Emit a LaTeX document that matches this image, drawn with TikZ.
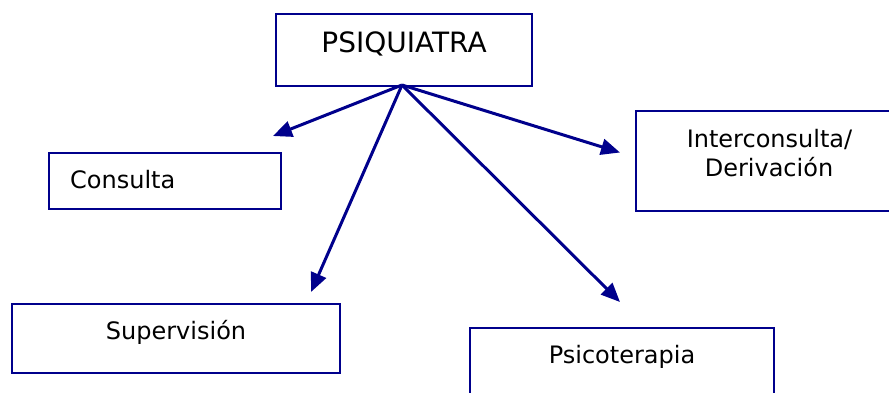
\documentclass[tikz,border=0pt]{standalone}
\usepackage{fontspec}
\setmainfont{DejaVu Sans}
\usetikzlibrary{arrows.meta}
\definecolor{navyline}{RGB}{0,0,140}
\tikzset{
  box/.style={draw=navyline, line width=2.8pt, fill=white, inner sep=0pt},
  lbl/.style={inner sep=0pt, text=black, font=\fontsize{24}{28}\selectfont},
  toplbl/.style={inner sep=0pt, text=black, font=\fontsize{28}{33}\selectfont},
  link/.style={draw=navyline, line width=3pt, -{Triangle[length=19pt,width=16pt]}}
}
\begin{document}
\begin{tikzpicture}[x=1pt, y=-1pt]
  \useasboundingbox (0,0) rectangle (889,392);
  \clip (0,0) rectangle (889,392);
  \fill[white] (0,0) rectangle (889,392);

  % boxes
  \node[box, minimum width=256pt, minimum height=72pt] (psiq) at (404,50) {};
  \node[box, minimum width=232pt, minimum height=56pt] (cons) at (165,181) {};
  \node[box, minimum width=266pt, minimum height=100pt] (inter) at (769,161) {};
  \node[box, minimum width=328pt, minimum height=69pt] (sup) at (176,338.5) {};
  \node[box, minimum width=304pt, minimum height=72pt] (psico) at (622,364) {};

  % labels
  \node[toplbl, anchor=base] (psiq-t) at (404,52) {PSIQUIATRA};
  \node[lbl, anchor=base west] (cons-t) at (70,188) {Consulta};
  \node[lbl, anchor=base] (inter-t1) at (769.5,147) {Interconsulta/};
  \node[lbl, anchor=base] (inter-t2) at (769,176) {Derivación};
  \node[lbl, anchor=base] (sup-t) at (176,339) {Supervisión};
  \node[lbl, anchor=base] (psico-t) at (622,363) {Psicoterapia};

  % arrow tips, just short of each box
  \coordinate (src) at (402,85);
  \coordinate (to-cons) at (273,136);
  \coordinate (to-sup) at (311,292);
  \coordinate (to-inter) at (620,152.5);
  \coordinate (to-psico) at (620,302);

  \draw[link] (src) -- (to-cons);
  \draw[link] (src) -- (to-sup);
  \draw[link] (src) -- (to-inter);
  \draw[link] (src) -- (to-psico);
\end{tikzpicture}
\end{document}
